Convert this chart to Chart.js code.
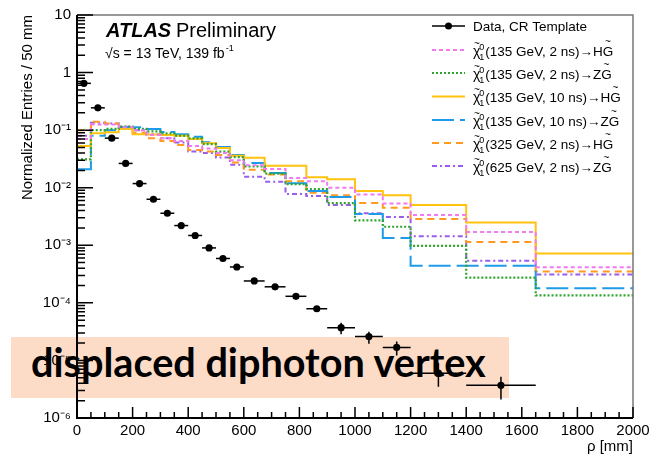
<!DOCTYPE html>
<html>
<head>
<meta charset="utf-8">
<script src="https://cdn.jsdelivr.net/npm/chart.js@4.4.1/dist/chart.umd.min.js"></script>
<style>
  html, body { margin: 0; padding: 0; background: #fff; }
  #wrap { position: relative; width: 662px; height: 457px; }
  #banner {
    position: absolute; left: 11px; top: 337px; width: 498px; height: 61px;
    background: #fcdcc7; mix-blend-mode: multiply;
  }
  #banner span {
    position: absolute; left: 20px; top: 6px; line-height: 1;
    font-family: Lato, "Open Sans", sans-serif; font-weight: 700; font-size: 36px;
    color: #000; white-space: nowrap;
  }
</style>
</head>
<body>
<div id="wrap">
  <canvas id="chart" width="662" height="457"></canvas>
  <div id="banner"><span>displaced diphoton vertex</span></div>
</div>
<script>
// bin edges in rho [mm]; last bins are wider
const rhoEdges = [0, 50, 100, 150, 200, 250, 300, 350, 400, 450, 500, 550, 600, 675, 750, 825, 900, 1000, 1100, 1200, 1400, 1650, 2000]

// data, CR template (one value per bin, null = empty)
const crData = [0.65, 0.244, 0.0726, 0.0264, 0.0118, 0.0063, 0.0036, 0.0022, 0.00148, 0.0009, 0.00059, 0.00042,
  0.00024, 0.00019, 0.00013, 0.000079, 0.000037, 0.000026, 0.0000168, 0.000006, 0.0000037, null]
// vertical error bars where they stick out of the marker
const crLow = [null, null, null, null, null, null, null, null, null, null, null, null,
  null, null, null, null, 0.0000286, 0.0000195, 0.0000122, 0.0000035, 0.0000021, null]
const crHigh = [null, null, null, null, null, null, null, null, null, null, null, null,
  null, null, null, null, 0.000045, 0.0000314, 0.0000214, 0.000009, 0.0000052, null]

// signal templates
const sig135_2ns_HG = [0.07, 0.125, 0.125, 0.112, 0.10, 0.082, 0.072, 0.065, 0.053, 0.048, 0.040, 0.030,
  0.0245, 0.0212, 0.0148, 0.013, 0.0100, 0.0076, 0.0053, 0.00335, 0.0017, 0.000414]
const sig135_2ns_ZG = [0.031, 0.10, 0.105, 0.115, 0.105, 0.095, 0.088, 0.080, 0.072, 0.057, 0.0425, 0.034,
  0.0235, 0.0176, 0.0115, 0.0095, 0.0054, 0.0027, 0.0021, 0.00098, 0.000275, 0.000135]
const sig135_10ns_HG = [0.053, 0.088, 0.092, 0.105, 0.085, 0.084, 0.082, 0.080, 0.070, 0.059, 0.049, 0.036,
  0.033, 0.024, 0.024, 0.0152, 0.014, 0.0088, 0.0074, 0.0050, 0.0025, 0.00072]
const sig135_10ns_ZG = [0.021, 0.08, 0.10, 0.112, 0.112, 0.105, 0.093, 0.085, 0.077, 0.0615, 0.051, 0.037,
  0.0268, 0.018, 0.012, 0.0088, 0.0069, 0.0035, 0.00134, 0.00044, 0.00044, 0.00018]
const sig325_2ns_HG = [0.10, 0.14, 0.13, 0.11, 0.09, 0.072, 0.065, 0.055, 0.045, 0.0425, 0.037, 0.0275,
  0.0206, 0.0169, 0.013, 0.0082, 0.0074, 0.0054, 0.0045, 0.00286, 0.00114, 0.00035]
const sig625_2ns_ZG = [0.08, 0.134, 0.13, 0.115, 0.10, 0.085, 0.072, 0.061, 0.0425, 0.040, 0.0336, 0.0251,
  0.0155, 0.0127, 0.0078, 0.0072, 0.005, 0.0036, 0.0031, 0.00144, 0.00054, 0.00031]

const yDecades = [1e-6, 1e-5, 1e-4, 1e-3, 1e-2, 1e-1, 1, 10]
const xMajor = [0, 200, 400, 600, 800, 1000, 1200, 1400, 1600, 1800, 2000]

const FONT = '"Liberation Sans", Arial, Helvetica, sans-serif'

const signals = [
  { spec: '135 GeV, 2 ns', boson: 'H', values: sig135_2ns_HG, color: '#f07af0', dash: [4, 3], width: 2 },
  { spec: '135 GeV, 2 ns', boson: 'Z', values: sig135_2ns_ZG, color: '#2ea42e', dash: [2, 2], width: 2.2 },
  { spec: '135 GeV, 10 ns', boson: 'H', values: sig135_10ns_HG, color: '#ffc20e', dash: [], width: 2 },
  { spec: '135 GeV, 10 ns', boson: 'Z', values: sig135_10ns_ZG, color: '#1e9be8', dash: [22, 6], width: 2 },
  { spec: '325 GeV, 2 ns', boson: 'H', values: sig325_2ns_HG, color: '#ff9a1e', dash: [7, 5], width: 2 },
  { spec: '625 GeV, 2 ns', boson: 'Z', values: sig625_2ns_ZG, color: '#9a5cec', dash: [5, 3, 2, 3], width: 2 },
]

// histogram as step line: one point per left edge plus the closing right edge
function stepPoints(values) {
  return rhoEdges.map((e, i) => ({ x: e, y: values[Math.min(i, values.length - 1)] }))
}

const binCenters = rhoEdges.slice(0, -1).map((e, i) => (e + rhoEdges[i + 1]) / 2)
const crPoints = binCenters
  .map((c, i) => ({ x: c, y: crData[i], i }))
  .filter(p => p.y !== null)

function supExp(e) {
  const map = { '-': '⁻', '0': '⁰', '1': '¹', '2': '²', '3': '³', '4': '⁴', '5': '⁵', '6': '⁶', '7': '⁷', '8': '⁸', '9': '⁹' }
  return String(e).split('').map(c => map[c]).join('')
}

function drawChi(ctx, x, y, spec, boson) {
  ctx.textAlign = 'left'
  ctx.font = `14px ${FONT}`
  ctx.fillText('χ', x, y)
  const wChi = ctx.measureText('χ').width
  ctx.font = `10px ${FONT}`
  ctx.fillText('~', x + 1, y - 9)
  ctx.font = `9px ${FONT}`
  ctx.fillText('0', x + wChi - 1, y - 6)
  ctx.fillText('1', x + wChi - 1, y + 4)
  let cx = x + wChi + 5
  ctx.font = `13.5px ${FONT}`
  const body = `(${spec})→${boson}`
  ctx.fillText(body, cx, y)
  cx += ctx.measureText(body).width
  ctx.fillText('G', cx, y)
  const wG = ctx.measureText('G').width
  ctx.font = `10px ${FONT}`
  ctx.textAlign = 'center'
  ctx.fillText('~', cx + wG / 2, y - 11)
  ctx.textAlign = 'left'
}

const decorations = {
  id: 'decorations',
  afterDatasetsDraw(chart) {
    const { ctx, scales: { x, y } } = chart
    ctx.save()
    ctx.strokeStyle = '#000'
    ctx.lineWidth = 1.5
    crPoints.forEach(p => {
      const py = y.getPixelForValue(p.y)
      ctx.beginPath()
      ctx.moveTo(x.getPixelForValue(rhoEdges[p.i]), py)
      ctx.lineTo(x.getPixelForValue(rhoEdges[p.i + 1]), py)
      if (crLow[p.i] !== null) {
        const px = x.getPixelForValue(p.x)
        ctx.moveTo(px, y.getPixelForValue(crLow[p.i]))
        ctx.lineTo(px, y.getPixelForValue(crHigh[p.i]))
      }
      ctx.stroke()
    })
    ctx.restore()
  },
  afterDraw(chart) {
    const { ctx, chartArea: a, scales: { x, y } } = chart
    ctx.save()

    // frame: black axes, grey top/right
    ctx.strokeStyle = '#777'
    ctx.lineWidth = 1.5
    ctx.beginPath()
    ctx.moveTo(a.left, a.top)
    ctx.lineTo(a.right, a.top)
    ctx.lineTo(a.right, a.bottom)
    ctx.stroke()
    ctx.strokeStyle = '#000'
    ctx.lineWidth = 2
    ctx.beginPath()
    ctx.moveTo(a.left, a.top)
    ctx.lineTo(a.left, a.bottom)
    ctx.lineTo(a.right, a.bottom)
    ctx.stroke()

    // ticks pointing into the frame
    ctx.lineWidth = 1.5
    ctx.beginPath()
    for (let v = 0; v <= 2000; v += 50) {
      const px = x.getPixelForValue(v)
      const len = xMajor.includes(v) ? 11 : 6
      ctx.moveTo(px, a.bottom)
      ctx.lineTo(px, a.bottom - len)
    }
    yDecades.forEach((d, k) => {
      const py = y.getPixelForValue(d)
      ctx.moveTo(a.left, py)
      ctx.lineTo(a.left + 16, py)
      if (k === yDecades.length - 1) return
      for (let m = 2; m <= 9; m++) {
        const pm = y.getPixelForValue(d * m)
        ctx.moveTo(a.left, pm)
        ctx.lineTo(a.left + 8, pm)
      }
    })
    ctx.stroke()

    // ATLAS label
    ctx.fillStyle = '#000'
    ctx.textBaseline = 'alphabetic'
    ctx.font = `italic bold 20px ${FONT}`
    ctx.fillText('ATLAS', 106, 37)
    ctx.font = `20px ${FONT}`
    ctx.fillText('Preliminary', 176, 37)
    ctx.font = `14px ${FONT}`
    ctx.fillText('√s = 13 TeV, 139 fb', 105, 57.5)
    const wl = ctx.measureText('√s = 13 TeV, 139 fb').width
    ctx.font = `9px ${FONT}`
    ctx.fillText('-1', 105 + wl + 1, 51)

    // legend
    const rows = [26, 50, 73, 96.5, 120, 143, 166]
    const lx0 = 432, lx1 = 465, tx = 473
    ctx.strokeStyle = '#000'
    ctx.lineWidth = 1.5
    ctx.beginPath()
    ctx.moveTo(lx0, rows[0])
    ctx.lineTo(lx1, rows[0])
    ctx.stroke()
    ctx.beginPath()
    ctx.arc((lx0 + lx1) / 2, rows[0], 3.5, 0, Math.PI * 2)
    ctx.fill()
    ctx.font = `13.5px ${FONT}`
    ctx.fillText('Data, CR Template', tx, rows[0] + 5)

    signals.forEach((s, k) => {
      const ry = rows[k + 1]
      ctx.strokeStyle = s.color
      ctx.lineWidth = s.width
      ctx.setLineDash(s.dash)
      ctx.beginPath()
      ctx.moveTo(lx0, ry)
      ctx.lineTo(lx1, ry)
      ctx.stroke()
      ctx.setLineDash([])
      ctx.fillStyle = '#000'
      drawChi(ctx, tx, ry + 5.5, s.spec, s.boson)
    })
    ctx.restore()
  }
}

const datasets = signals.map(s => ({
  label: `${s.spec} ${s.boson}`,
  data: stepPoints(s.values),
  stepped: 'before',
  borderColor: s.color,
  borderWidth: s.width,
  borderDash: s.dash,
  pointRadius: 0,
  fill: false,
  order: 1,
}))
datasets.push({
  type: 'scatter',
  label: 'Data, CR Template',
  data: crPoints,
  pointRadius: 3.6,
  pointBackgroundColor: '#000',
  pointBorderWidth: 0,
  order: 0,
})

new Chart(document.getElementById('chart'), {
  type: 'line',
  data: { datasets },
  options: {
    responsive: false,
    animation: false,
    layout: { padding: { top: 10, right: 29, left: 0, bottom: 0 } },
    plugins: { legend: { display: false }, tooltip: { enabled: false } },
    scales: {
      x: {
        type: 'linear', min: 0, max: 2000,
        grid: { display: false, drawTicks: false },
        border: { display: false },
        ticks: {
          stepSize: 200, autoSkip: false, maxRotation: 0, padding: 4,
          color: '#000', font: { family: FONT, size: 15 },
          callback: v => String(v),
        },
        title: {
          display: true, text: 'ρ [mm]', align: 'end', color: '#000',
          font: { family: FONT, size: 15 }, padding: { top: 0, bottom: 1 },
        },
        afterFit: s => { s.height = 39 },
      },
      y: {
        type: 'logarithmic', min: 1e-6, max: 10,
        grid: { display: false, drawTicks: false },
        border: { display: false },
        afterBuildTicks: s => { s.ticks = yDecades.map(v => ({ value: v })) },
        ticks: {
          padding: 6, color: '#000', font: { family: FONT, size: 15 },
          callback: v => {
            const e = Math.round(Math.log10(v))
            if (e === 1) return '10'
            if (e === 0) return '1'
            return '10' + supExp(e)
          },
        },
        title: {
          display: true, text: 'Normalized Entries / 50 mm', align: 'end', color: '#000',
          font: { family: FONT, size: 15 }, padding: { top: 19, bottom: 0 },
        },
        afterFit: s => { s.width = 77 },
      },
    },
  },
  plugins: [decorations],
})

// banner text sized to its box
const label = document.querySelector('#banner span')
const w = label.getBoundingClientRect().width
const size = 36 * 455 / w
label.style.fontSize = size + 'px'
label.style.top = (39.7 - 0.887 * size) + 'px'
</script>
</body>
</html>
